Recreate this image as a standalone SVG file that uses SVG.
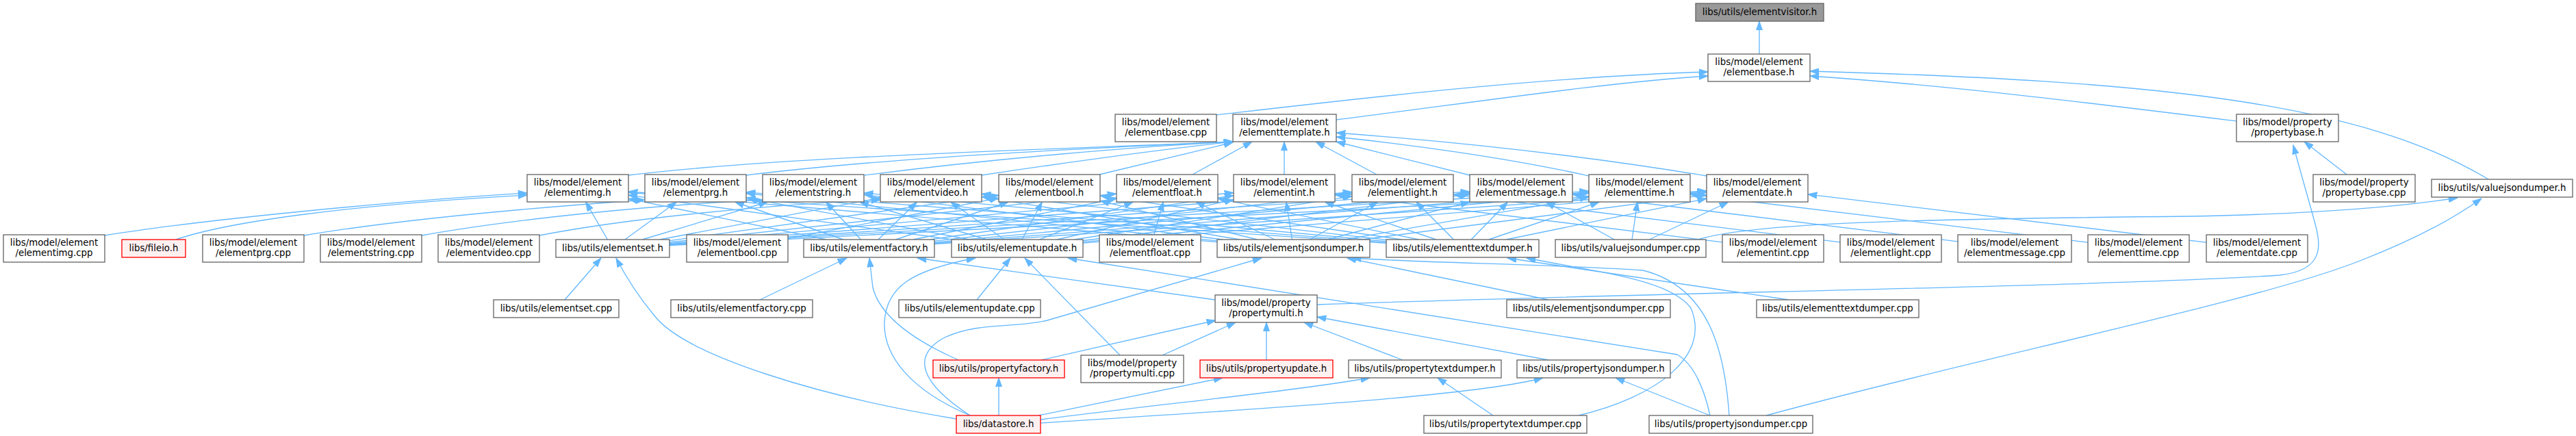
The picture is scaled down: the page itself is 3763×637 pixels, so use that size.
<svg xmlns="http://www.w3.org/2000/svg" width="3763" height="637" viewBox="0 0 3763 637">
<defs>
<style>
.n rect{fill:#ffffff;stroke:#666666;stroke-width:1.33}
.r rect{fill:#fff0f0;stroke:#ff0000;stroke-width:1.33}
.g rect{fill:#999999;stroke:#666666;stroke-width:1.33}
text{font-family:"DejaVu Sans","Liberation Sans",sans-serif;font-size:13.33px;fill:#000000;text-anchor:middle}
#edges path{fill:none;stroke:#63b8ff;stroke-width:1.33;marker-end:url(#ah)}
</style>
<marker id="ah" viewBox="0 0 14 10" refX="13.3" refY="5" markerWidth="14" markerHeight="10" markerUnits="userSpaceOnUse" orient="auto"><path d="M0,0.4 L13.3,5 L0,9.6 Z" fill="#63b8ff" stroke="#63b8ff" stroke-width="1"/></marker>
</defs>
<rect x="0" y="0" width="3763" height="637" fill="#ffffff"/>
<g id="edges">
<path d="M2570,79 L2570,31"/>
<path d="M1777,168 C 1950,148 2250,112 2495,105"/>
<path d="M1952,175 C 2150,150 2350,120 2495,111"/>
<path d="M3267,177 C 3050,150 2850,125 2644,111"/>
<path d="M3635,262 C 3450,150 3150,118 2644,104"/>
<path d="M918,256 C 1150,228 1550,218 1801,207"/>
<path d="M1090,256 C 1300,230 1600,216 1801,207"/>
<path d="M1263,256 C 1450,232 1650,215 1801,207"/>
<path d="M1434,256 C 1580,234 1700,218 1801,207"/>
<path d="M1606,255 L1801,208"/>
<path d="M1742,255 L1829,207"/>
<path d="M1876,255 L1876,207"/>
<path d="M2011,255 L1922,207"/>
<path d="M2147,256 L1952,207"/>
<path d="M2321,257 C 2200,230 2050,210 1952,200"/>
<path d="M2493,257 C 2300,225 2100,205 1952,194"/>
<path d="M3428,255 L3366,207"/>
<path d="M1924,445 C 2400,428 3100,418 3330,402 C 3395,395 3392,360 3380,320 C 3372,290 3360,250 3350,212"/>
<path d="M2480,350 C 2560,325 2800,320 3200,316 C 3400,312 3520,300 3590,289"/>
<path d="M2580,607 C 2900,520 3300,440 3450,380 C 3540,345 3590,315 3625,290"/>
<path d="M153,344 C 300,320 600,292 770,282"/>
<path d="M257,350 C 330,325 500,300 770,285"/>
<path d="M887.5,350 L855.6,295"/>
<path d="M1206.7,350 L918,290.3"/>
<path d="M1391.2,350 L918,285.1"/>
<path d="M1778,353.6 L918,281.2"/>
<path d="M2025,355.4 L918,280"/>
<path d="M444,344 C 600,318 800,302 942,292"/>
<path d="M912.9,350 L988.5,295"/>
<path d="M1232,350 L1073.6,295"/>
<path d="M1416.6,350 L1090,288.9"/>
<path d="M1778,351.8 L1090,282.5"/>
<path d="M2025,354.2 L1090,280.8"/>
<path d="M616,344 C 750,320 950,300 1114,292"/>
<path d="M938.3,350 L1121.5,295"/>
<path d="M1257.5,350 L1206.5,295"/>
<path d="M1442,350 L1255.6,295"/>
<path d="M1785.9,350 L1262,284.3"/>
<path d="M2025,352.7 L1262,281.9"/>
<path d="M788,344 C 900,322 1100,300 1286,292"/>
<path d="M963.7,350 L1286,289"/>
<path d="M1282.9,350 L1339.5,295"/>
<path d="M1467.4,350 L1388.6,295"/>
<path d="M1811.3,350 L1434,287.3"/>
<path d="M2025,350.4 L1434,283.4"/>
<path d="M1151,348.7 L1459,289.3"/>
<path d="M978,351.6 L1459,285.2"/>
<path d="M1308.4,350 L1473.2,295"/>
<path d="M1492.9,350 L1522.3,295"/>
<path d="M1836.8,350 L1607,293.3"/>
<path d="M2047.4,350 L1607,285.8"/>
<path d="M1685.7,343 L1699.3,295"/>
<path d="M978,354 L1631,283"/>
<path d="M1333.8,350 L1631,290"/>
<path d="M1518.3,350 L1655.3,295"/>
<path d="M1862.2,350 L1746.9,295"/>
<path d="M2072.8,350 L1779,290.1"/>
<path d="M2516,353.9 L1950,284.1"/>
<path d="M978,355.6 L1802,281.6"/>
<path d="M1359.1,350 L1802,285.7"/>
<path d="M1543.6,350 L1802,291.7"/>
<path d="M1887.5,350 L1879,295"/>
<path d="M2098,350 L1935.1,295"/>
<path d="M2688,353.9 L2123,284.1"/>
<path d="M978,356.7 L1975,280.6"/>
<path d="M1365,352.2 L1975,283.4"/>
<path d="M1569.2,350 L1975,286.6"/>
<path d="M1913.1,350 L2012.8,295"/>
<path d="M2123.6,350 L2068.9,295"/>
<path d="M2860,352.9 L2297,284"/>
<path d="M978,357.5 L2147,279.9"/>
<path d="M1365,354.2 L2147,281.8"/>
<path d="M1582,351.5 L2147,283.9"/>
<path d="M1938.6,350 L2147,294.8"/>
<path d="M2149.1,350 L2202.6,295"/>
<path d="M2358.4,350 L2258.3,295"/>
<path d="M3050,354.1 L2469,283.9"/>
<path d="M978,357.9 L2321,279.3"/>
<path d="M1365,355.5 L2321,280.8"/>
<path d="M1582,353.7 L2321,282.2"/>
<path d="M1964.2,350 L2321,287.9"/>
<path d="M2174.7,350 L2336.3,295"/>
<path d="M2384,350 L2392,295"/>
<path d="M3223,354.1 L2641,283.9"/>
<path d="M978,358.6 L2493,278.9"/>
<path d="M1365,356.5 L2493,280"/>
<path d="M1582,355.2 L2493,281"/>
<path d="M1989.5,350 L2493,284.6"/>
<path d="M2200.1,350 L2493,290.1"/>
<path d="M2409.3,350 L2525,295"/>
<path d="M825,438 L878,377"/>
<path d="M1397,612 C 1200,580 1000,520 955,460 C 930,430 912,400 900,377"/>
<path d="M1110,438 L1237,377"/>
<path d="M1400,526 C 1330,495 1285,460 1275,420 L1270,377"/>
<path d="M1775,438 L1340,377"/>
<path d="M1427,438 L1476,377"/>
<path d="M1417,607 C 1330,570 1290,520 1292,470 C 1295,420 1330,395 1425,377"/>
<path d="M1636,519 L1497,377"/>
<path d="M2498,607 C 2490,570 2475,532 2450,518 L1560,377"/>
<path d="M2262,438 L1968,377"/>
<path d="M1417,607 C 1345,560 1330,520 1380,493 C 1430,470 1480,480 1530,468 L1843,377"/>
<path d="M2526,607 C 2520,520 2500,420 2400,395 C 2250,385 2100,385 1975,377"/>
<path d="M2613,438 L2202,377"/>
<path d="M2306,607 C 2420,580 2500,520 2470,450 C 2440,410 2350,400 2230,377"/>
<path d="M1459,607 L1459,552"/>
<path d="M1517,607 L1786,552"/>
<path d="M1520,613 C 1700,590 1900,570 2001,552"/>
<path d="M1520,618 C 1800,600 2150,580 2254,552"/>
<path d="M1521,526 L1776,468"/>
<path d="M1698,519 L1805,471"/>
<path d="M1850,526 L1850,471"/>
<path d="M2049,526 L1905,471"/>
<path d="M2262,526 L1924,463"/>
<path d="M2181,607 L2100,552"/>
<path d="M2498,607 L2360,552"/>
</g>
<g id="n_visitor" class="g"><rect x="2477" y="5" width="187" height="26"/><text x="2570.5" y="22">libs/utils/elementvisitor.h</text></g>
<g id="n_base" class="n"><rect x="2495" y="79" width="149" height="40"/><text x="2569.5" y="95">libs/model/element</text><text x="2569.5" y="109.5">/elementbase.h</text></g>
<g id="n_basecpp" class="n"><rect x="1629" y="167" width="148" height="40"/><text x="1703" y="183">libs/model/element</text><text x="1703" y="197.5">/elementbase.cpp</text></g>
<g id="n_template" class="n"><rect x="1801" y="167" width="151" height="40"/><text x="1876.5" y="183">libs/model/element</text><text x="1876.5" y="197.5">/elementtemplate.h</text></g>
<g id="n_propbase" class="n"><rect x="3267" y="167" width="149" height="40"/><text x="3341.5" y="183">libs/model/property</text><text x="3341.5" y="197.5">/propertybase.h</text></g>
<g id="n_img" class="n"><rect x="770" y="255" width="148" height="40"/><text x="844" y="271">libs/model/element</text><text x="844" y="285.5">/elementimg.h</text></g>
<g id="n_prg" class="n"><rect x="942" y="255" width="148" height="40"/><text x="1016" y="271">libs/model/element</text><text x="1016" y="285.5">/elementprg.h</text></g>
<g id="n_string" class="n"><rect x="1114" y="255" width="148" height="40"/><text x="1188" y="271">libs/model/element</text><text x="1188" y="285.5">/elementstring.h</text></g>
<g id="n_video" class="n"><rect x="1286" y="255" width="148" height="40"/><text x="1360" y="271">libs/model/element</text><text x="1360" y="285.5">/elementvideo.h</text></g>
<g id="n_bool" class="n"><rect x="1459" y="255" width="148" height="40"/><text x="1533" y="271">libs/model/element</text><text x="1533" y="285.5">/elementbool.h</text></g>
<g id="n_float" class="n"><rect x="1631" y="255" width="148" height="40"/><text x="1705" y="271">libs/model/element</text><text x="1705" y="285.5">/elementfloat.h</text></g>
<g id="n_int" class="n"><rect x="1802" y="255" width="148" height="40"/><text x="1876" y="271">libs/model/element</text><text x="1876" y="285.5">/elementint.h</text></g>
<g id="n_light" class="n"><rect x="1975" y="255" width="148" height="40"/><text x="2049" y="271">libs/model/element</text><text x="2049" y="285.5">/elementlight.h</text></g>
<g id="n_message" class="n"><rect x="2147" y="255" width="150" height="40"/><text x="2222" y="271">libs/model/element</text><text x="2222" y="285.5">/elementmessage.h</text></g>
<g id="n_time" class="n"><rect x="2321" y="255" width="148" height="40"/><text x="2395" y="271">libs/model/element</text><text x="2395" y="285.5">/elementtime.h</text></g>
<g id="n_date" class="n"><rect x="2493" y="255" width="148" height="40"/><text x="2567" y="271">libs/model/element</text><text x="2567" y="285.5">/elementdate.h</text></g>
<g id="n_propbasecpp" class="n"><rect x="3379" y="255" width="149" height="40"/><text x="3453.5" y="271">libs/model/property</text><text x="3453.5" y="285.5">/propertybase.cpp</text></g>
<g id="n_vjdh" class="n"><rect x="3552" y="262" width="206" height="26"/><text x="3655" y="279">libs/utils/valuejsondumper.h</text></g>
<g id="n_imgcpp" class="n"><rect x="5" y="343" width="148" height="40"/><text x="79" y="359">libs/model/element</text><text x="79" y="373.5">/elementimg.cpp</text></g>
<g id="n_fileio" class="r"><rect x="178" y="350" width="93" height="26"/><text x="224.5" y="367">libs/fileio.h</text></g>
<g id="n_prgcpp" class="n"><rect x="296" y="343" width="148" height="40"/><text x="370" y="359">libs/model/element</text><text x="370" y="373.5">/elementprg.cpp</text></g>
<g id="n_stringcpp" class="n"><rect x="468" y="343" width="148" height="40"/><text x="542" y="359">libs/model/element</text><text x="542" y="373.5">/elementstring.cpp</text></g>
<g id="n_videocpp" class="n"><rect x="640" y="343" width="148" height="40"/><text x="714" y="359">libs/model/element</text><text x="714" y="373.5">/elementvideo.cpp</text></g>
<g id="n_seth" class="n"><rect x="812" y="350" width="166" height="26"/><text x="895" y="367">libs/utils/elementset.h</text></g>
<g id="n_boolcpp" class="n"><rect x="1003" y="343" width="148" height="40"/><text x="1077" y="359">libs/model/element</text><text x="1077" y="373.5">/elementbool.cpp</text></g>
<g id="n_factoryh" class="n"><rect x="1174" y="350" width="191" height="26"/><text x="1269.5" y="367">libs/utils/elementfactory.h</text></g>
<g id="n_updateh" class="n"><rect x="1390" y="350" width="192" height="26"/><text x="1486" y="367">libs/utils/elementupdate.h</text></g>
<g id="n_floatcpp" class="n"><rect x="1606" y="343" width="148" height="40"/><text x="1680" y="359">libs/model/element</text><text x="1680" y="373.5">/elementfloat.cpp</text></g>
<g id="n_jsonh" class="n"><rect x="1778" y="350" width="223" height="26"/><text x="1889.5" y="367">libs/utils/elementjsondumper.h</text></g>
<g id="n_texth" class="n"><rect x="2025" y="350" width="223" height="26"/><text x="2136.5" y="367">libs/utils/elementtextdumper.h</text></g>
<g id="n_vjdcpp" class="n"><rect x="2272" y="350" width="220" height="26"/><text x="2382" y="367">libs/utils/valuejsondumper.cpp</text></g>
<g id="n_intcpp" class="n"><rect x="2516" y="343" width="148" height="40"/><text x="2590" y="359">libs/model/element</text><text x="2590" y="373.5">/elementint.cpp</text></g>
<g id="n_lightcpp" class="n"><rect x="2688" y="343" width="148" height="40"/><text x="2762" y="359">libs/model/element</text><text x="2762" y="373.5">/elementlight.cpp</text></g>
<g id="n_messagecpp" class="n"><rect x="2860" y="343" width="166" height="40"/><text x="2943" y="359">libs/model/element</text><text x="2943" y="373.5">/elementmessage.cpp</text></g>
<g id="n_timecpp" class="n"><rect x="3050" y="343" width="148" height="40"/><text x="3124" y="359">libs/model/element</text><text x="3124" y="373.5">/elementtime.cpp</text></g>
<g id="n_datecpp" class="n"><rect x="3223" y="343" width="148" height="40"/><text x="3297" y="359">libs/model/element</text><text x="3297" y="373.5">/elementdate.cpp</text></g>
<g id="n_setcpp" class="n"><rect x="721" y="438" width="183" height="26"/><text x="812.5" y="455">libs/utils/elementset.cpp</text></g>
<g id="n_factorycpp" class="n"><rect x="980" y="438" width="207" height="26"/><text x="1083.5" y="455">libs/utils/elementfactory.cpp</text></g>
<g id="n_updatecpp" class="n"><rect x="1313" y="438" width="207" height="26"/><text x="1416.5" y="455">libs/utils/elementupdate.cpp</text></g>
<g id="n_pmultih" class="n"><rect x="1775" y="431" width="149" height="40"/><text x="1849.5" y="447">libs/model/property</text><text x="1849.5" y="461.5">/propertymulti.h</text></g>
<g id="n_jsoncpp" class="n"><rect x="2201" y="438" width="239" height="26"/><text x="2320.5" y="455">libs/utils/elementjsondumper.cpp</text></g>
<g id="n_textcpp" class="n"><rect x="2566" y="438" width="237" height="26"/><text x="2684.5" y="455">libs/utils/elementtextdumper.cpp</text></g>
<g id="n_pfactory" class="r"><rect x="1363" y="526" width="192" height="26"/><text x="1459" y="543">libs/utils/propertyfactory.h</text></g>
<g id="n_pmulticpp" class="n"><rect x="1579" y="519" width="150" height="40"/><text x="1654" y="535">libs/model/property</text><text x="1654" y="549.5">/propertymulti.cpp</text></g>
<g id="n_pupdate" class="r"><rect x="1753" y="526" width="194" height="26"/><text x="1850" y="543">libs/utils/propertyupdate.h</text></g>
<g id="n_ptexth" class="n"><rect x="1970" y="526" width="223" height="26"/><text x="2081.5" y="543">libs/utils/propertytextdumper.h</text></g>
<g id="n_pjsonh" class="n"><rect x="2216" y="526" width="224" height="26"/><text x="2328" y="543">libs/utils/propertyjsondumper.h</text></g>
<g id="n_datastore" class="r"><rect x="1397" y="607" width="123" height="26"/><text x="1458.5" y="624">libs/datastore.h</text></g>
<g id="n_ptextcpp" class="n"><rect x="2080" y="607" width="238" height="26"/><text x="2199" y="624">libs/utils/propertytextdumper.cpp</text></g>
<g id="n_pjsoncpp" class="n"><rect x="2409" y="607" width="239" height="26"/><text x="2528.5" y="624">libs/utils/propertyjsondumper.cpp</text></g>
</svg>
